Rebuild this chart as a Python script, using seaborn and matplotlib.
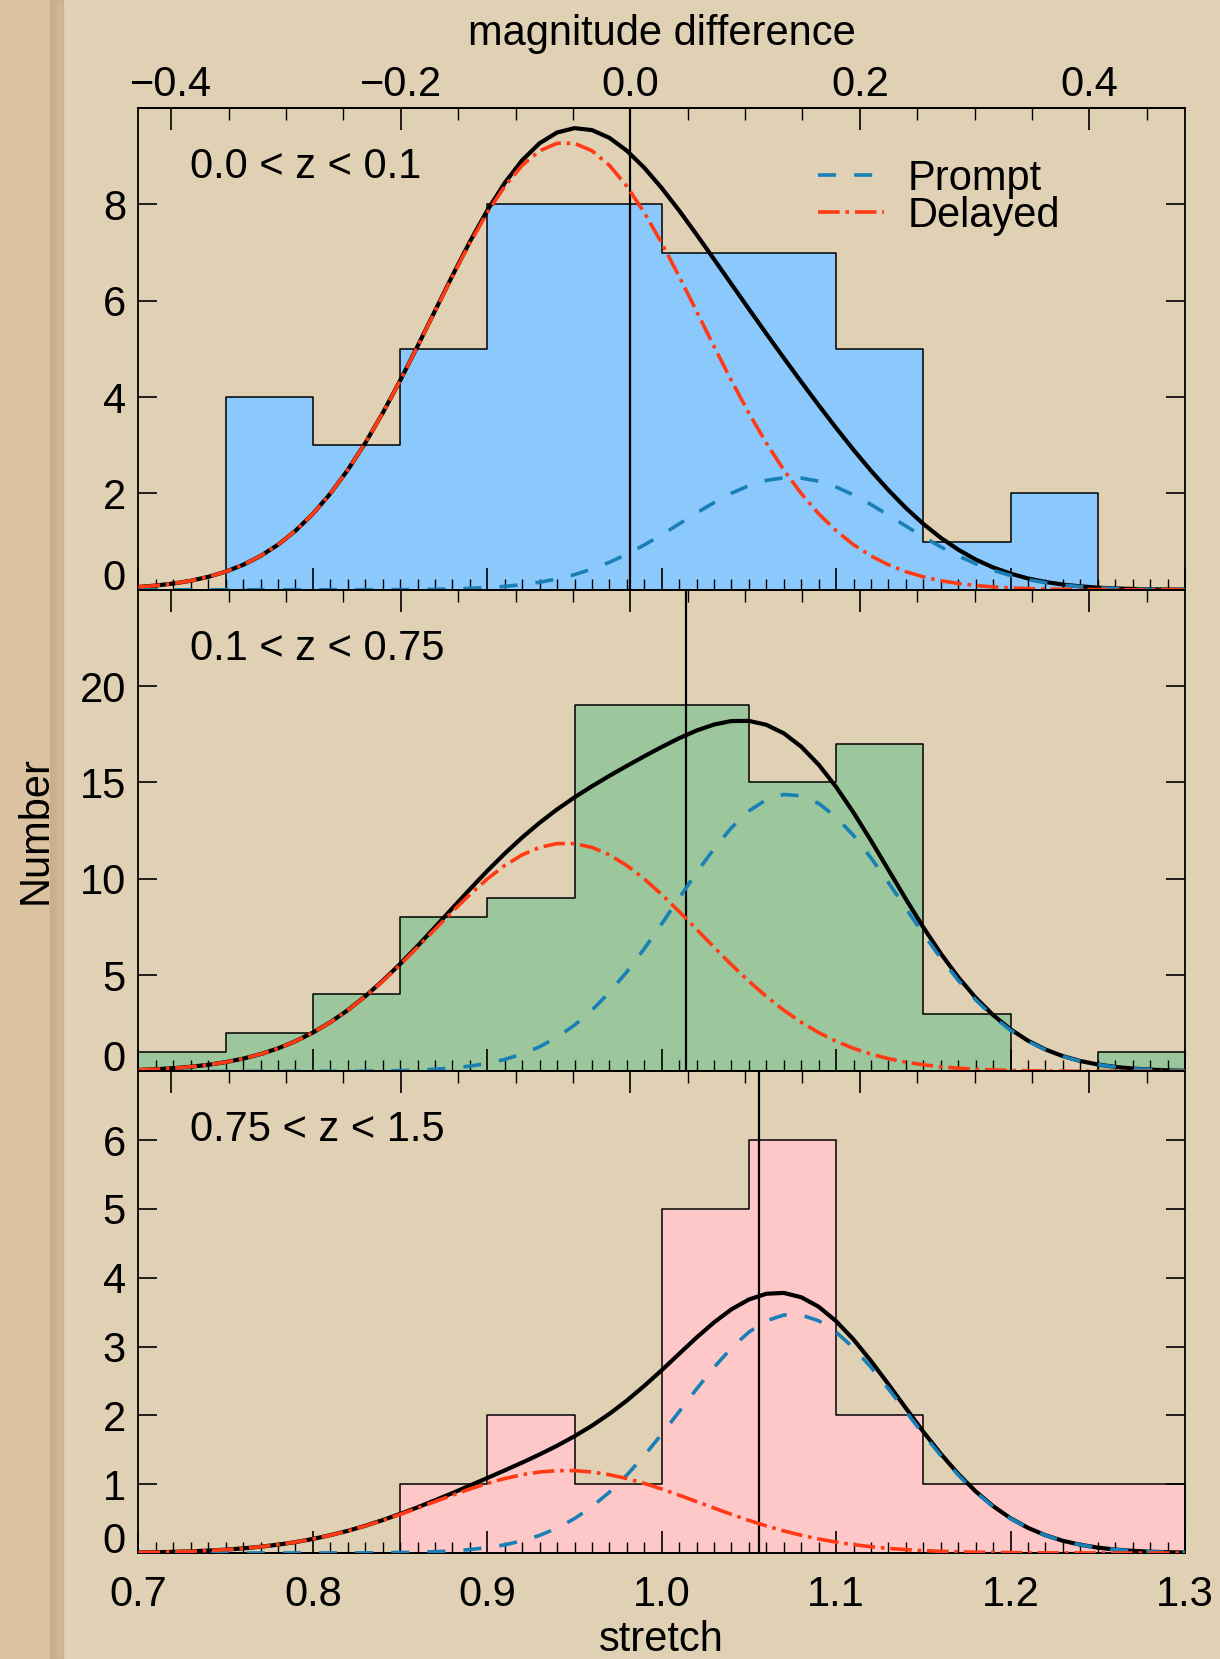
import matplotlib
matplotlib.use("Agg")
import matplotlib.pyplot as plt
import numpy as np
import pandas as pd
import seaborn as sns
from matplotlib.patches import Rectangle
from matplotlib.ticker import FixedLocator, FuncFormatter, MultipleLocator, NullFormatter, NullLocator

# ---- histogram counts per stretch bin ----
bin_edges = [0.70, 0.75, 0.80, 0.85, 0.90, 0.95, 1.00, 1.05, 1.10, 1.15, 1.20, 1.25, 1.30]
counts_low = [0, 4, 3, 5, 8, 8, 7, 7, 5, 1, 2, 0]
counts_mid = [1, 2, 4, 8, 9, 19, 19, 15, 17, 3, 0, 1]
counts_high = [0, 0, 0, 1, 2, 1, 5, 6, 2, 1, 1, 1]

model_stretch = [0.70, 0.71, 0.72, 0.73, 0.74, 0.75, 0.76, 0.77, 0.78, 0.79,
                 0.80, 0.81, 0.82, 0.83, 0.84, 0.85, 0.86, 0.87, 0.88, 0.89,
                 0.90, 0.91, 0.92, 0.93, 0.94, 0.95, 0.96, 0.97, 0.98, 0.99,
                 1.00, 1.01, 1.02, 1.03, 1.04, 1.05, 1.06, 1.07, 1.08, 1.09,
                 1.10, 1.11, 1.12, 1.13, 1.14, 1.15, 1.16, 1.17, 1.18, 1.19,
                 1.20, 1.21, 1.22, 1.23, 1.24, 1.25, 1.26, 1.27, 1.28, 1.29, 1.30]

prompt_low = [0.000, 0.000, 0.000, 0.000, 0.000, 0.000, 0.000, 0.000, 0.000, 0.000,
              0.000, 0.000, 0.001, 0.001, 0.002, 0.003, 0.006, 0.010, 0.017, 0.029,
              0.045, 0.070, 0.107, 0.157, 0.225, 0.315, 0.430, 0.571, 0.738, 0.931,
              1.143, 1.368, 1.594, 1.811, 2.005, 2.162, 2.271, 2.325, 2.319, 2.254,
              2.134, 1.969, 1.769, 1.550, 1.322, 1.099, 0.890, 0.703, 0.540, 0.405,
              0.296, 0.210, 0.146, 0.098, 0.065, 0.041, 0.026, 0.016, 0.009, 0.005, 0.003]
delayed_low = [0.059, 0.088, 0.130, 0.188, 0.268, 0.376, 0.518, 0.702, 0.935, 1.225,
               1.577, 1.998, 2.487, 3.045, 3.666, 4.340, 5.051, 5.781, 6.506, 7.198,
               7.832, 8.378, 8.813, 9.115, 9.270, 9.270, 9.115, 8.813, 8.378, 7.832,
               7.198, 6.506, 5.781, 5.051, 4.340, 3.666, 3.045, 2.487, 1.998, 1.577,
               1.225, 0.935, 0.702, 0.518, 0.376, 0.268, 0.188, 0.130, 0.088, 0.059,
               0.039, 0.025, 0.016, 0.010, 0.006, 0.004, 0.002, 0.001, 0.001, 0.000, 0.000]
total_low = [0.059, 0.088, 0.130, 0.188, 0.268, 0.376, 0.518, 0.702, 0.935, 1.225,
             1.577, 1.998, 2.488, 3.046, 3.668, 4.343, 5.057, 5.791, 6.523, 7.227,
             7.877, 8.448, 8.920, 9.272, 9.495, 9.585, 9.545, 9.384, 9.116, 8.763,
             8.341, 7.874, 7.375, 6.862, 6.345, 5.828, 5.316, 4.812, 4.317, 3.831,
             3.359, 2.904, 2.471, 2.068, 1.698, 1.367, 1.078, 0.833, 0.628, 0.464,
             0.335, 0.235, 0.162, 0.108, 0.071, 0.045, 0.028, 0.017, 0.010, 0.005, 0.003]

prompt_mid = [0.000, 0.000, 0.000, 0.000, 0.000, 0.000, 0.000, 0.000, 0.001, 0.001,
              0.002, 0.004, 0.007, 0.013, 0.023, 0.040, 0.067, 0.110, 0.175, 0.273,
              0.417, 0.620, 0.901, 1.280, 1.774, 2.402, 3.175, 4.100, 5.170, 6.368,
              7.659, 8.997, 10.320, 11.562, 12.650, 13.517, 14.105, 14.375, 14.307, 13.906,
              13.201, 12.238, 11.080, 9.797, 8.460, 7.134, 5.876, 4.726, 3.712, 2.848,
              2.134, 1.561, 1.116, 0.778, 0.530, 0.353, 0.230, 0.146, 0.090, 0.055, 0.032]
delayed_mid = [0.075, 0.113, 0.166, 0.240, 0.342, 0.480, 0.661, 0.895, 1.193, 1.563,
               2.012, 2.548, 3.173, 3.885, 4.677, 5.536, 6.443, 7.374, 8.298, 9.181,
               9.990, 10.687, 11.242, 11.627, 11.825, 11.825, 11.627, 11.242, 10.687, 9.990,
               9.181, 8.298, 7.374, 6.443, 5.536, 4.677, 3.885, 3.173, 2.548, 2.012,
               1.563, 1.193, 0.895, 0.661, 0.480, 0.342, 0.240, 0.166, 0.113, 0.075,
               0.049, 0.032, 0.020, 0.013, 0.008, 0.005, 0.003, 0.002, 0.001, 0.000, 0.000]
total_mid = [0.075, 0.113, 0.166, 0.240, 0.342, 0.480, 0.661, 0.895, 1.194, 1.564,
             2.014, 2.552, 3.180, 3.898, 4.700, 5.576, 6.510, 7.484, 8.473, 9.454,
             10.407, 11.307, 12.143, 12.907, 13.599, 14.227, 14.802, 15.342, 15.857, 16.358,
             16.840, 17.295, 17.694, 18.005, 18.186, 18.194, 17.990, 17.548, 16.855, 15.918,
             14.764, 13.431, 11.975, 10.458, 8.940, 7.476, 6.116, 4.892, 3.825, 2.923,
             2.183, 1.593, 1.136, 0.791, 0.538, 0.358, 0.233, 0.148, 0.091, 0.055, 0.032]

prompt_high = [0.000, 0.000, 0.000, 0.000, 0.000, 0.000, 0.000, 0.000, 0.000, 0.000,
               0.000, 0.001, 0.001, 0.002, 0.004, 0.007, 0.011, 0.019, 0.031, 0.050,
               0.078, 0.119, 0.176, 0.256, 0.362, 0.500, 0.673, 0.884, 1.133, 1.417,
               1.727, 2.055, 2.385, 2.699, 2.981, 3.211, 3.375, 3.459, 3.459, 3.375,
               3.211, 2.981, 2.699, 2.385, 2.055, 1.727, 1.417, 1.133, 0.884, 0.673,
               0.500, 0.362, 0.256, 0.176, 0.119, 0.078, 0.050, 0.031, 0.019, 0.011, 0.007]
delayed_high = [0.008, 0.011, 0.017, 0.024, 0.035, 0.049, 0.067, 0.091, 0.121, 0.158,
                0.204, 0.258, 0.321, 0.393, 0.474, 0.561, 0.653, 0.747, 0.840, 0.930,
                1.012, 1.082, 1.138, 1.177, 1.197, 1.197, 1.177, 1.138, 1.082, 1.012,
                0.930, 0.840, 0.747, 0.653, 0.561, 0.474, 0.393, 0.321, 0.258, 0.204,
                0.158, 0.121, 0.091, 0.067, 0.049, 0.035, 0.024, 0.017, 0.011, 0.008,
                0.005, 0.003, 0.002, 0.001, 0.001, 0.000, 0.000, 0.000, 0.000, 0.000, 0.000]
total_high = [0.008, 0.011, 0.017, 0.024, 0.035, 0.049, 0.067, 0.091, 0.121, 0.158,
              0.204, 0.259, 0.322, 0.395, 0.478, 0.568, 0.664, 0.766, 0.871, 0.980,
              1.090, 1.201, 1.314, 1.433, 1.559, 1.697, 1.850, 2.022, 2.215, 2.429,
              2.657, 2.895, 3.132, 3.352, 3.542, 3.685, 3.768, 3.780, 3.717, 3.579,
              3.369, 3.102, 2.790, 2.452, 2.104, 1.762, 1.441, 1.150, 0.895, 0.681,
              0.505, 0.365, 0.258, 0.177, 0.120, 0.078, 0.050, 0.031, 0.019, 0.011, 0.007]

mean_stretch = [0.982, 1.014, 1.056]
z_labels = ["0.0 < z < 0.1", "0.1 < z < 0.75", "0.75 < z < 1.5"]
y_max = [10, 25, 7]
y_ticks = [[0, 2, 4, 6, 8], [0, 5, 10, 15, 20], [0, 1, 2, 3, 4, 5, 6]]
mag_ticks = [-0.4, -0.2, 0.0, 0.2, 0.4]

# stretch -> magnitude difference (linear, zero at s = 0.982)
MAG_SLOPE = 1.52
MAG_ZERO = 0.982

FILL_COLORS = ["#8BC9FD", "#9CC79C", "#FFC8C8"]
PROMPT_COLOR = "#1880B6"
DELAYED_COLOR = "#FF3A14"
BG_COLOR = "#E0D1B4"

sns.set_style("ticks", {"axes.facecolor": "none", "axes.edgecolor": "black"})
plt.rcParams["font.family"] = ["Liberation Sans", "DejaVu Sans"]
plt.rcParams["font.size"] = 30
plt.rcParams["axes.linewidth"] = 1.3
for key in ["text.color", "axes.labelcolor", "xtick.color", "ytick.color"]:
    plt.rcParams[key] = "black"


def to_mag(s):
    return MAG_SLOPE * (np.asarray(s) - MAG_ZERO)


def to_stretch(m):
    return np.asarray(m) / MAG_SLOPE + MAG_ZERO


def fmt_tick(v, _pos):
    if abs(v) < 1e-9:
        v = 0.0
    return f"{v:.1f}".replace("-", "\u2212")


def draw_panel(ax, counts, prompt, delayed, total, color, mean_s, label, ymax, yticks,
               top_labels=False, bottom_labels=False, legend=False):
    centers = [(a + b) / 2 for a, b in zip(bin_edges[:-1], bin_edges[1:])]
    hist_df = pd.DataFrame({"stretch": centers, "n": counts})
    sns.histplot(data=hist_df, x="stretch", weights="n", bins=bin_edges, element="step",
                 fill=True, color=color, edgecolor="black", linewidth=1.1, alpha=1,
                 ax=ax, zorder=1)
    ax.axvline(mean_s, color="black", lw=1.6, zorder=2)

    curve_df = pd.DataFrame({"stretch": model_stretch, "total": total,
                             "prompt": prompt, "delayed": delayed})
    sns.lineplot(data=curve_df, x="stretch", y="total", color="black", lw=3.0,
                 errorbar=None, ax=ax, zorder=3)
    sns.lineplot(data=curve_df, x="stretch", y="prompt", color=PROMPT_COLOR, lw=2.6,
                 linestyle=(0, (5, 5)), errorbar=None, ax=ax, zorder=4,
                 label="Prompt" if legend else None)
    sns.lineplot(data=curve_df, x="stretch", y="delayed", color=DELAYED_COLOR, lw=2.6,
                 linestyle=(0, (6, 1.6, 1, 1.6)), errorbar=None, ax=ax, zorder=5,
                 label="Delayed" if legend else None)

    ax.set_axisbelow(False)
    ax.set_xlim(0.7, 1.3)
    ax.set_ylim(0, ymax)
    ax.set_xlabel("")
    ax.set_ylabel("")
    ax.xaxis.set_major_locator(MultipleLocator(0.1))
    ax.xaxis.set_minor_locator(MultipleLocator(0.01))
    ax.xaxis.set_major_formatter(FuncFormatter(fmt_tick) if bottom_labels else NullFormatter())
    ax.yaxis.set_major_locator(FixedLocator(yticks))
    ax.yaxis.set_minor_locator(NullLocator())
    ax.tick_params(axis="x", which="major", direction="in", length=16, width=1.2,
                   top=False, bottom=True, pad=15.5)
    ax.tick_params(axis="x", which="minor", direction="in", length=8, width=1.0,
                   top=False, bottom=True)
    ax.tick_params(axis="y", which="major", direction="in", length=14, width=1.2,
                   left=True, right=True, pad=9)
    for sp in ax.spines.values():
        sp.set_visible(True)
        sp.set_color("black")
        sp.set_linewidth(1.3)
    # IDL-style: the zero label sits on the axis
    ax.yaxis.get_major_ticks()[0].label1.set_verticalalignment("baseline")

    sec = ax.secondary_xaxis("top", functions=(to_mag, to_stretch))
    sec.xaxis.set_major_locator(FixedLocator(mag_ticks))
    sec.xaxis.set_minor_locator(MultipleLocator(0.05))
    sec.xaxis.set_major_formatter(FuncFormatter(fmt_tick) if top_labels else NullFormatter())
    sec.tick_params(axis="x", which="major", direction="in", length=16, width=1.2, pad=2.5)
    sec.tick_params(axis="x", which="minor", direction="in", length=8.5, width=1.0)
    sec.spines["top"].set_linewidth(1.3)
    sec.spines["top"].set_color("black")

    ax.text(0.049, 0.878, label, transform=ax.transAxes, ha="left", va="center")

    if legend:
        handles, labels = ax.get_legend_handles_labels()
        ax.legend(handles=handles, labels=labels, loc="center left",
                  bbox_to_anchor=(0.649, 0.815), frameon=False, handlelength=1.6,
                  handletextpad=0.55, labelspacing=-0.06, borderpad=0, borderaxespad=0)
    elif ax.get_legend() is not None:
        ax.get_legend().remove()
    return sec


fig = plt.figure(figsize=(12.2, 16.59), dpi=100)
fig.patch.set_facecolor(BG_COLOR)
# parchment edge on the left
fig.add_artist(Rectangle((0, 0), 0.046, 1, transform=fig.transFigure,
                         color="#DBC3A1", zorder=-10))
fig.add_artist(Rectangle((0.041, 0), 0.011, 1, transform=fig.transFigure,
                         color="#BE9878", alpha=0.45, zorder=-9))

left, width, height = 0.1135, 0.8578, 0.2903
bottoms = [0.6445, 0.3542, 0.0639]
panels = [
    (counts_low, prompt_low, delayed_low, total_low),
    (counts_mid, prompt_mid, delayed_mid, total_mid),
    (counts_high, prompt_high, delayed_high, total_high),
]

axes = []
for i, (counts, prompt, delayed, total) in enumerate(panels):
    ax = fig.add_axes([left, bottoms[i], width, height])
    sec = draw_panel(ax, counts, prompt, delayed, total, FILL_COLORS[i], mean_stretch[i],
                     z_labels[i], y_max[i], y_ticks[i],
                     top_labels=(i == 0), bottom_labels=(i == 2), legend=(i == 0))
    if i == 0:
        sec.set_xlabel("magnitude difference", labelpad=14)
    axes.append(ax)

axes[2].set_xlabel("stretch", labelpad=4)
fig.text(36 / 1220, 1 - 830 / 1659, "Number", rotation=90, ha="center", va="center")

fig.savefig("out.png", dpi=100, facecolor=fig.get_facecolor())
